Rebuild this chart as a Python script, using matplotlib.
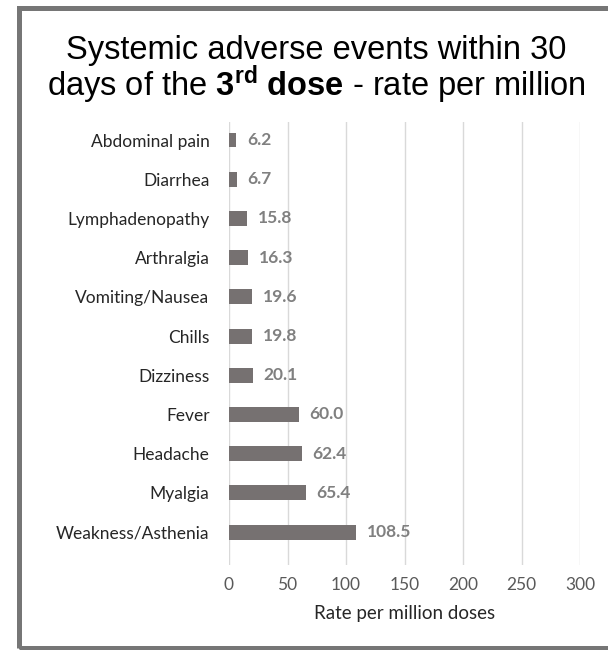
import matplotlib.pyplot as plt
from matplotlib.patches import Rectangle

# data (top to bottom in the chart)
events = ['Abdominal pain', 'Diarrhea', 'Lymphadenopathy', 'Arthralgia', 'Vomiting/Nausea',
          'Chills', 'Dizziness', 'Fever', 'Headache', 'Myalgia', 'Weakness/Asthenia']
rates = [6.2, 6.7, 15.8, 16.3, 19.6, 19.8, 20.1, 60.0, 62.4, 65.4, 108.5]
xticks = [0, 50, 100, 150, 200, 250, 300]

plt.rcParams['font.family'] = ['Liberation Sans', 'DejaVu Sans']
plt.rcParams['mathtext.fontset'] = 'custom'
plt.rcParams['mathtext.rm'] = 'Liberation Sans'
plt.rcParams['mathtext.bf'] = 'Liberation Sans:bold'

W, H = 608, 650
fig = plt.figure(figsize=(W / 100, H / 100), dpi=100)
fig.patch.set_facecolor('white')

# outer frame (right side runs off the picture)
fig.add_artist(Rectangle((18.5 / W, 1 - 648 / H), 1.2, (648 - 8) / H, transform=fig.transFigure,
                         fill=False, edgecolor='#767676', lw=3.6))

ax = fig.add_axes([229 / W, 1 - 565 / H, (580 - 229) / W, (565 - 122) / H])
n = len(events)
ypos = [n - 1 - i for i in range(n)]
ax.barh(ypos, rates, height=0.38, color='#767171', zorder=3)

lab_font = 'Lato'
for y, v in zip(ypos, rates):
    ax.text(v + 9, y, f'{v:.1f}', va='center', ha='left', fontsize=12.5, color='#808080',
            fontweight='bold', family=lab_font)

ax.set_xlim(0, 300)
ax.set_ylim(-0.84, n - 1 + 0.46)
ax.set_xticks(xticks)
ax.set_xticklabels([str(t) for t in xticks], family=lab_font, fontsize=12.5, color='#595959')
ax.set_yticks(ypos)
ax.set_yticklabels(events, family=lab_font, fontsize=12.5, color='#262626')
ax.tick_params(axis='both', length=0)
ax.tick_params(axis='x', pad=9)
ax.tick_params(axis='y', pad=14)
ax.grid(axis='x', color='#d9d9d9', lw=1, zorder=0)
for s in ax.spines.values():
    s.set_visible(False)
ax.set_xlabel('Rate per million doses', family=lab_font, fontsize=13.5, color='#262626', labelpad=8)

fig.text(316 / W, 1 - 50 / H, 'Systemic adverse events within 30', ha='center', va='center',
         fontsize=23.5, color='black')
fig.text(316 / W, 1 - 85 / H, r'days of the $\mathbf{3^{rd}}$ $\mathbf{dose}$ - rate per million',
         ha='center', va='center', fontsize=23.5, color='black')

fig.savefig('out.png', dpi=100, facecolor='white')
